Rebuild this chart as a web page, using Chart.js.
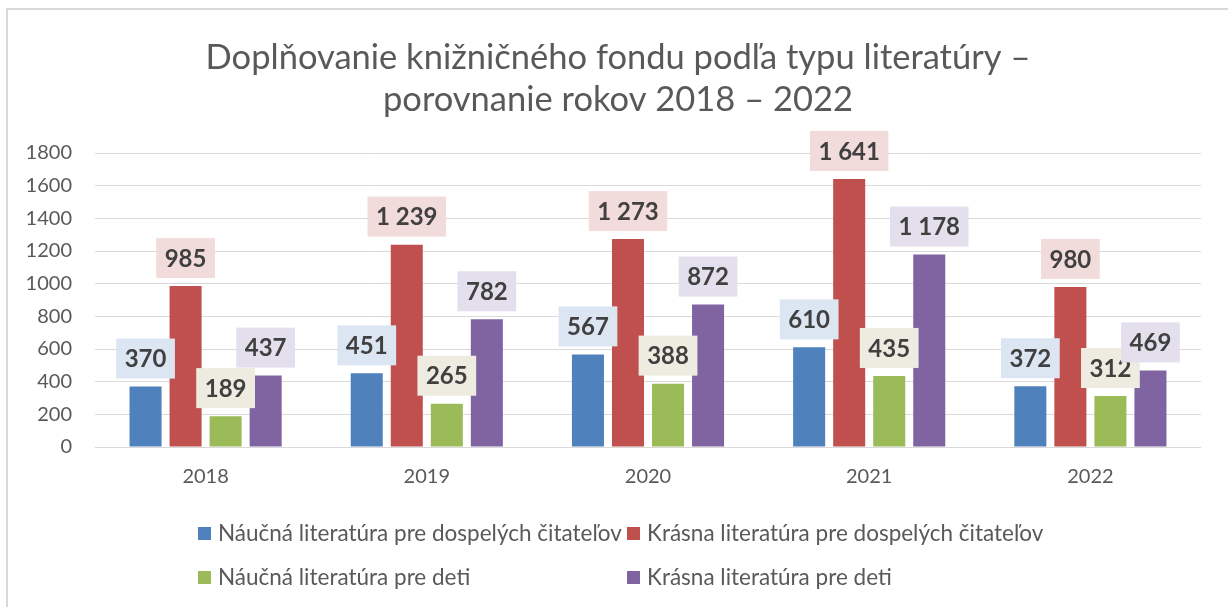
<!DOCTYPE html>
<html><head><meta charset="utf-8">
<script src="https://cdn.jsdelivr.net/npm/chart.js@4/dist/chart.umd.min.js"></script>
<style>
html,body{margin:0;padding:0;background:#fff;overflow:hidden;}
#frame{position:absolute;left:6px;top:8px;width:1230px;height:610px;border-left:2px solid #d9d9d9;border-top:2px solid #d9d9d9;}
canvas{position:absolute;left:0;top:0;}
</style></head><body>
<div id="frame"></div>
<canvas id="c" width="1228" height="607"></canvas>
<script>
const years = ['2018', '2019', '2020', '2021', '2022'];
const seriesNames = [
  'Náučná literatúra pre dospelých čitateľov',
  'Krásna literatúra pre dospelých čitateľov',
  'Náučná literatúra pre deti',
  'Krásna literatúra pre deti'
];
const naucnaDospeli = [370, 451, 567, 610, 372];
const krasnaDospeli = [985, 1239, 1273, 1641, 980];
const naucnaDeti = [189, 265, 388, 435, 312];
const krasnaDeti = [437, 782, 872, 1178, 469];
const yTicks = [0, 200, 400, 600, 800, 1000, 1200, 1400, 1600, 1800];
const titleLines = ['Doplňovanie knižničného fondu podľa typu literatúry –', 'porovnanie rokov 2018 – 2022'];

const barColors = ['#4F81BD', '#C0504D', '#9BBB59', '#8064A2'];
const labelBg = ['#DCE6F2', '#F2DCDB', '#EEECE1', '#E4DFEC'];
const TEXT = '#595959';
const FONT = 'Lato, "Open Sans", sans-serif';

function fmt(v) { return String(v).replace(/\B(?=(\d{3})+(?!\d))/g, ' '); }

const chartTitle = {
  id: 'chartTitle',
  afterDraw(chart) {
    const ctx = chart.ctx;
    ctx.save();
    ctx.font = '34.5px ' + FONT;
    ctx.fillStyle = TEXT;
    ctx.textAlign = 'center';
    ctx.textBaseline = 'middle';
    titleLines.forEach((line, i) => ctx.fillText(line, 618, 58 + i * 42));
    ctx.restore();
  }
};

const valueLabels = {
  id: 'valueLabels',
  afterDatasetsDraw(chart) {
    const ctx = chart.ctx;
    ctx.save();
    ctx.font = 'bold 24px ' + FONT;
    ctx.textAlign = 'center';
    ctx.textBaseline = 'middle';
    chart.data.datasets.forEach((ds, di) => {
      const meta = chart.getDatasetMeta(di);
      meta.data.forEach((el, i) => {
        const t = fmt(ds.data[i]);
        const w = ctx.measureText(t).width + 17;
        const h = 40;
        const bottom = el.y - 8;
        ctx.fillStyle = labelBg[di];
        ctx.fillRect(el.x - w / 2, bottom - h, w, h);
        ctx.fillStyle = '#404040';
        ctx.fillText(t, el.x, bottom - h / 2 + 1);
      });
    });
    ctx.restore();
  }
};

const gridLegend = {
  id: 'gridLegend',
  afterDraw(chart) {
    const ctx = chart.ctx;
    const colX = [198, 627];
    const rowY = [533, 577];
    ctx.save();
    ctx.font = '22.5px ' + FONT;
    ctx.textBaseline = 'middle';
    ctx.textAlign = 'left';
    chart.data.datasets.forEach((ds, di) => {
      const x = colX[di % 2];
      const y = rowY[Math.floor(di / 2)];
      ctx.fillStyle = ds.backgroundColor;
      ctx.fillRect(x, y - 6, 13, 13);
      ctx.fillStyle = TEXT;
      ctx.fillText(ds.label, x + 20, y + 1);
    });
    ctx.restore();
  }
};

const seriesData = [naucnaDospeli, krasnaDospeli, naucnaDeti, krasnaDeti];

new Chart(document.getElementById('c'), {
  type: 'bar',
  data: {
    labels: years,
    datasets: seriesNames.map((n, i) => ({
      label: n,
      data: seriesData[i],
      backgroundColor: barColors[i],
      borderWidth: 0,
      barPercentage: 0.8,
      categoryPercentage: 0.724
    }))
  },
  options: {
    responsive: false,
    animation: false,
    layout: { padding: { left: 8, right: 27, top: 153, bottom: 110 } },
    plugins: {
      legend: { display: false },
      tooltip: { enabled: false },
      title: { display: false }
    },
    scales: {
      x: {
        grid: { display: false },
        border: { display: false },
        ticks: { color: TEXT, font: { family: FONT, size: 20 }, padding: 10 },
        afterFit(s) { s.height = 50; }
      },
      y: {
        min: 0,
        max: 1800,
        afterBuildTicks(s) { s.ticks = yTicks.map(v => ({ value: v })); },
        grid: { color: '#D9D9D9', lineWidth: 1, drawTicks: false },
        border: { display: false },
        ticks: { color: TEXT, font: { family: FONT, size: 20 }, padding: 23, callback: v => String(v) },
        afterFit(s) { s.width = 87; }
      }
    }
  },
  plugins: [chartTitle, valueLabels, gridLegend]
});
</script>
</body></html>
